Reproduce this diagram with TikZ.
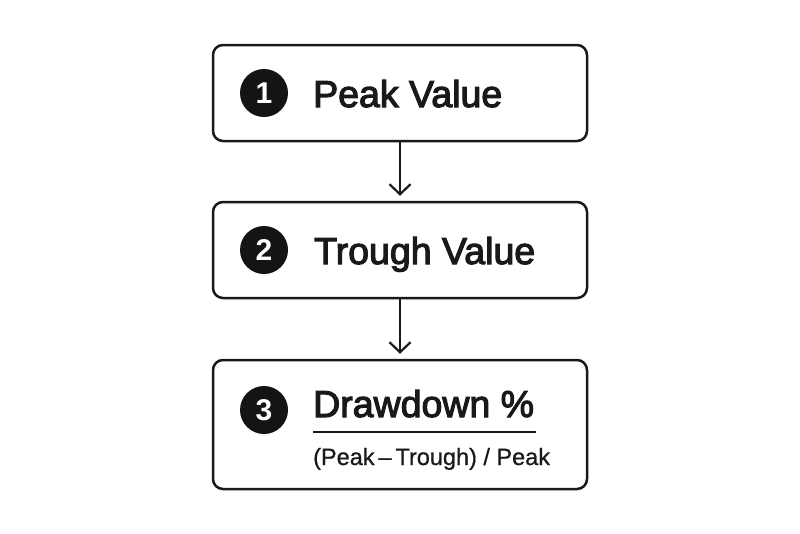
\documentclass[tikz,border=0pt]{standalone}
\usepackage{fontspec}
\setmainfont{Liberation Sans}
\newfontfamily\medfont{Liberation Sans}[UprightFeatures={FakeBold=3}]
\newfontfamily\lightmed{Liberation Sans}[UprightFeatures={FakeBold=0.8}]
\usetikzlibrary{arrows.meta}
\begin{document}
\begin{tikzpicture}[x=1pt,y=-1pt,
  stepbox/.style={draw=black!90,line width=2.5pt,rounded corners=10pt,minimum width=374pt,inner sep=0pt},
  numdot/.style={circle,fill=black!92,minimum size=48pt,inner sep=0pt,text=white,font=\fontsize{30}{30}\selectfont\bfseries},
  title/.style={anchor=base west,inner sep=0pt,font=\fontsize{37.5}{37.5}\medfont,text=black!90},
  sub/.style={anchor=base west,inner sep=0pt,font=\fontsize{23.5}{23.5}\lightmed,text=black!90},
  arr/.style={line width=2.2pt,draw=black!90,-{Straight Barb[length=10pt,width=21pt,line width=2.2pt]},shorten >=5pt}]
\useasboundingbox (0,0) rectangle (800,533);
\node[stepbox,minimum height=96pt] (b1) at (400,93) {};
\node[stepbox,minimum height=96pt] (b2) at (400,250) {};
\node[stepbox,minimum height=129pt] (b3) at (400,424.5) {};
\node[numdot] (n1) at (264,93) {1};
\node[numdot] (n2) at (264,250) {2};
\node[numdot] (n3) at (264,410) {3};
\node[title] (t1) at (313,107) {Peak Value};
\node[title] (t2) at (314,264) {Trough Value};
\node[title] (t3) at (313,417) {Drawdown \%};
\coordinate (u1) at (313,432);
\coordinate (u2) at (536,432);
\draw[line width=2pt,black!90] (u1) -- (u2);
\node[sub] (s3) at (313,465) {(Peak\,–\,Trough) / Peak};
\draw[arr] (b1.south) -- (b2.north);
\draw[arr] (b2.south) -- (b3.north);
\end{tikzpicture}
\end{document}
